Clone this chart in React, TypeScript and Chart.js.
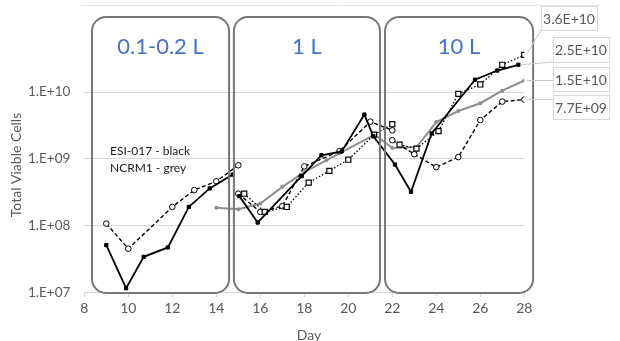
import React, { useEffect, useRef } from 'react';
import { Chart, registerables } from 'chart.js';
Chart.register(...registerables);

const FONT = 'Lato, "Open Sans", sans-serif';

// ---- data (day, total viable cells) ----
const solidSmallDays = [9, 9.9, 10.7, 11.8, 12.75, 13.7, 14.75];
const solidSmallCells = [5.1e7, 1.15e7, 3.4e7, 4.7e7, 1.9e8, 3.6e8, 5.8e8];

const dashedSmallDays = [9, 10, 12, 13, 14, 15];
const dashedSmallCells = [1.07e8, 4.5e7, 1.9e8, 3.4e8, 4.6e8, 8.0e8];

const solidLargeDays = [15.05, 15.88, 17.88, 18.78, 19.7, 20.73, 21.14, 22.12, 22.85, 23.79, 25.76, 26.77, 27.73];
const solidLargeCells = [2.76e8, 1.11e8, 5.5e8, 1.13e9, 1.29e9, 4.6e9, 2.17e9, 8.2e8, 3.2e8, 2.4e9, 1.53e10, 2.1e10, 2.56e10];

const dashedMidDays = [15, 16, 17, 18, 19.6, 21, 22];
const dashedMidCells = [3.0e8, 1.6e8, 1.95e8, 7.7e8, 1.3e9, 3.6e9, 2.67e9];

const dashedLargeDays = [22, 23, 24, 25, 26, 27, 28];
const dashedLargeCells = [1.9e9, 1.17e9, 7.5e8, 1.06e9, 3.8e9, 7.2e9, 7.7e9];

const dottedMidDays = [15.27, 16.2, 17.2, 18.2, 19.14, 20, 21.17, 22];
const dottedMidCells = [3.0e8, 1.6e8, 1.9e8, 4.4e8, 6.6e8, 9.7e8, 2.3e9, 3.3e9];

const dottedLargeDays = [22.33, 23.1, 24.1, 25, 26, 27, 28];
const dottedLargeCells = [1.63e9, 1.42e9, 2.6e9, 9.4e9, 1.3e10, 2.56e10, 3.6e10];

const greyDays = [14, 15, 16, 17, 18, 19, 21.2, 22, 23.1, 24, 25, 26, 27, 28];
const greyCells = [1.84e8, 1.76e8, 2.14e8, 3.8e8, 6.3e8, 9.5e8, 2.3e9, 1.45e9, 1.5e9, 3.55e9, 5.2e9, 6.8e9, 1.05e10, 1.49e10];

// ---- tick labels & texts ----
const dayTicks = [8, 10, 12, 14, 16, 18, 20, 22, 24, 26, 28];
const dayTickLabels = ['8', '10', '12', '14', '16', '18', '20', '22', '24', '26', '28'];
const cellTicks = [1e7, 1e8, 1e9, 1e10];
const cellTickLabels = ['1.E+07', '1.E+08', '1.E+09', '1.E+10'];
const scaleNames = ['0.1-0.2 L', '1 L', '10 L'];
const scaleDayRanges = [[8.35, 14.58], [14.8, 21.44], [21.67, 28.4]];
const endLabels = ['3.6E+10', '2.5E+10', '1.5E+10', '7.7E+09'];
const legendLines = ['ESI-017 - black', 'NCRM1 - grey'];
const xTitle = 'Day';
const yTitle = 'Total Viable Cells';

const pts = (d: number[], c: number[]) => d.map((x, i) => ({ x, y: c[i] }));

function roundRect(ctx: CanvasRenderingContext2D, x: number, y: number, w: number, h: number, r: number) {
  ctx.beginPath();
  ctx.moveTo(x + r, y);
  ctx.lineTo(x + w - r, y);
  ctx.arcTo(x + w, y, x + w, y + r, r);
  ctx.lineTo(x + w, y + h - r);
  ctx.arcTo(x + w, y + h, x + w - r, y + h, r);
  ctx.lineTo(x + r, y + h);
  ctx.arcTo(x, y + h, x, y + h - r, r);
  ctx.lineTo(x, y + r);
  ctx.arcTo(x, y, x + r, y, r);
  ctx.closePath();
}

const overlay = {
  id: 'overlay',
  beforeDatasetsDraw(chart: any) {
    const { ctx, chartArea } = chart;
    ctx.save();
    ctx.strokeStyle = '#e4e4e4';
    ctx.lineWidth = 1;
    ctx.beginPath();
    ctx.moveTo(chartArea.left - 4, 5.5);
    ctx.lineTo(600, 5.5);
    ctx.stroke();
    ctx.restore();
  },
  afterDatasetsDraw(chart: any) {
    const { ctx } = chart;
    const xs = chart.scales.x;
    const ys = chart.scales.y;
    ctx.save();
    // bioreactor scale boxes
    ctx.strokeStyle = '#75777a';
    ctx.lineWidth = 2;
    scaleDayRanges.forEach((r, i) => {
      const x0 = xs.getPixelForValue(r[0]);
      const x1 = xs.getPixelForValue(r[1]);
      roundRect(ctx, x0, 17, x1 - x0, 276, 14);
      ctx.stroke();
      ctx.fillStyle = '#4472c4';
      ctx.font = `22px ${FONT}`;
      ctx.textAlign = 'center';
      ctx.textBaseline = 'middle';
      ctx.fillText(scaleNames[i], (x0 + x1) / 2, 47);
    });
    // legend note
    ctx.fillStyle = '#1a1a1a';
    ctx.font = `12px ${FONT}`;
    ctx.textAlign = 'left';
    ctx.textBaseline = 'middle';
    ctx.fillText(legendLines[0], 110, 151);
    ctx.fillText(legendLines[1], 110, 168);

    // end labels with leader lines
    const ends = [
      { d: dottedLargeDays, c: dottedLargeCells, box: [541, 6, 56, 24] },
      { d: solidLargeDays, c: solidLargeCells, box: [553, 37, 56, 25] },
      { d: greyDays, c: greyCells, box: [553, 67, 56, 24] },
      { d: dashedLargeDays, c: dashedLargeCells, box: [553, 95, 56, 24] },
    ];
    ends.forEach((e, i) => {
      const px = xs.getPixelForValue(e.d[e.d.length - 1]);
      const py = ys.getPixelForValue(e.c[e.c.length - 1]);
      const [bx, by, bw, bh] = e.box;
      ctx.strokeStyle = '#c8c8c8';
      ctx.lineWidth = 1;
      ctx.beginPath();
      ctx.moveTo(px + 2, py);
      const ty = Math.min(Math.max(py, by), by + bh);
      ctx.lineTo(bx, ty);
      ctx.stroke();
      ctx.fillStyle = '#ffffff';
      ctx.fillRect(bx, by, bw, bh);
      ctx.strokeStyle = '#d9d9d9';
      ctx.strokeRect(bx + 0.5, by + 0.5, bw, bh);
      ctx.fillStyle = '#595959';
      ctx.font = `14px ${FONT}`;
      ctx.textAlign = 'center';
      ctx.textBaseline = 'middle';
      ctx.fillText(endLabels[i], bx + bw / 2, by + bh / 2 + 1);
    });

    // axis titles
    ctx.fillStyle = '#595959';
    ctx.font = `14px ${FONT}`;
    ctx.textAlign = 'center';
    ctx.textBaseline = 'middle';
    ctx.fillText(xTitle, 309, 335);
    ctx.save();
    ctx.translate(16, 165);
    ctx.rotate(-Math.PI / 2);
    ctx.fillText(yTitle, 0, 0);
    ctx.restore();
    ctx.restore();
  },
};

export default function App() {
  const ref = useRef<HTMLCanvasElement>(null);
  useEffect(() => {
    if (!ref.current) return;
    const black = '#000000';
    const solid = (d: number[], c: number[]) => ({
      data: pts(d, c), showLine: true, borderColor: black, borderWidth: 1.8,
      pointStyle: 'rect', pointRadius: 2.3, pointBackgroundColor: black, pointBorderColor: black, pointBorderWidth: 1,
    });
    const dashed = (d: number[], c: number[]) => ({
      data: pts(d, c), showLine: true, borderColor: black, borderWidth: 1.4, borderDash: [4, 2.5],
      pointStyle: 'circle', pointRadius: 2.8, pointBackgroundColor: '#ffffff', pointBorderColor: black, pointBorderWidth: 1,
    });
    const dotted = (d: number[], c: number[]) => ({
      data: pts(d, c), showLine: true, borderColor: black, borderWidth: 1.3, borderDash: [1.5, 2],
      pointStyle: 'rect', pointRadius: 3.6, pointBackgroundColor: '#ffffff', pointBorderColor: black, pointBorderWidth: 1.2,
    });
    const chart = new Chart(ref.current, {
      type: 'scatter',
      data: {
        datasets: [
          solid(solidSmallDays, solidSmallCells),
          solid(solidLargeDays, solidLargeCells),
          dotted(dottedMidDays, dottedMidCells),
          dotted(dottedLargeDays, dottedLargeCells),
          dashed(dashedSmallDays, dashedSmallCells),
          dashed(dashedMidDays, dashedMidCells),
          dashed(dashedLargeDays, dashedLargeCells),
          {
            data: pts(greyDays, greyCells), showLine: true, borderColor: '#8f8f8f', borderWidth: 2,
            pointStyle: 'circle', pointRadius: 2, pointBackgroundColor: '#8f8f8f', pointBorderColor: '#8f8f8f', pointBorderWidth: 0,
          },
        ] as any,
      },
      options: {
        animation: false,
        responsive: false,
        devicePixelRatio: 1,
        layout: { padding: { left: 0, top: 4.66, right: 95.7, bottom: 0 } },
        plugins: { legend: { display: false }, tooltip: { enabled: false } },
        scales: {
          x: {
            type: 'linear', min: 8, max: 28,
            afterBuildTicks: (s: any) => { s.ticks = dayTicks.map((v) => ({ value: v })); },
            afterFit: (s: any) => { s.height = 48.7; s.paddingLeft = 0; s.paddingRight = 0; },
            ticks: {
              callback: (v: any) => { const i = dayTicks.indexOf(v); return i >= 0 ? dayTickLabels[i] : ''; },
              font: { family: FONT, size: 14 }, color: '#595959', padding: 3, maxRotation: 0,
            },
            grid: { drawOnChartArea: false, drawTicks: true, tickLength: 5, color: '#d9d9d9' },
            border: { display: true, color: '#d9d9d9' },
          },
          y: {
            type: 'logarithmic', min: 1e7, max: 2e11,
            afterBuildTicks: (s: any) => { s.ticks = cellTicks.map((v) => ({ value: v })); },
            afterFit: (s: any) => { s.width = 84.3; s.paddingTop = 0; s.paddingBottom = 0; },
            ticks: {
              callback: (v: any) => { const i = cellTicks.indexOf(v); return i >= 0 ? cellTickLabels[i] : ''; },
              font: { family: FONT, size: 13.5 }, color: '#595959', padding: 14,
            },
            grid: { color: '#d9d9d9', drawTicks: false },
            border: { display: false },
          },
        },
      } as any,
      plugins: [overlay],
    });
    return () => chart.destroy();
  }, []);
  return (
    <div style={{ position: 'fixed', left: 0, top: 0, width: 620, height: 341, background: '#fff' }}>
      <canvas ref={ref} width={620} height={341} />
    </div>
  );
}
